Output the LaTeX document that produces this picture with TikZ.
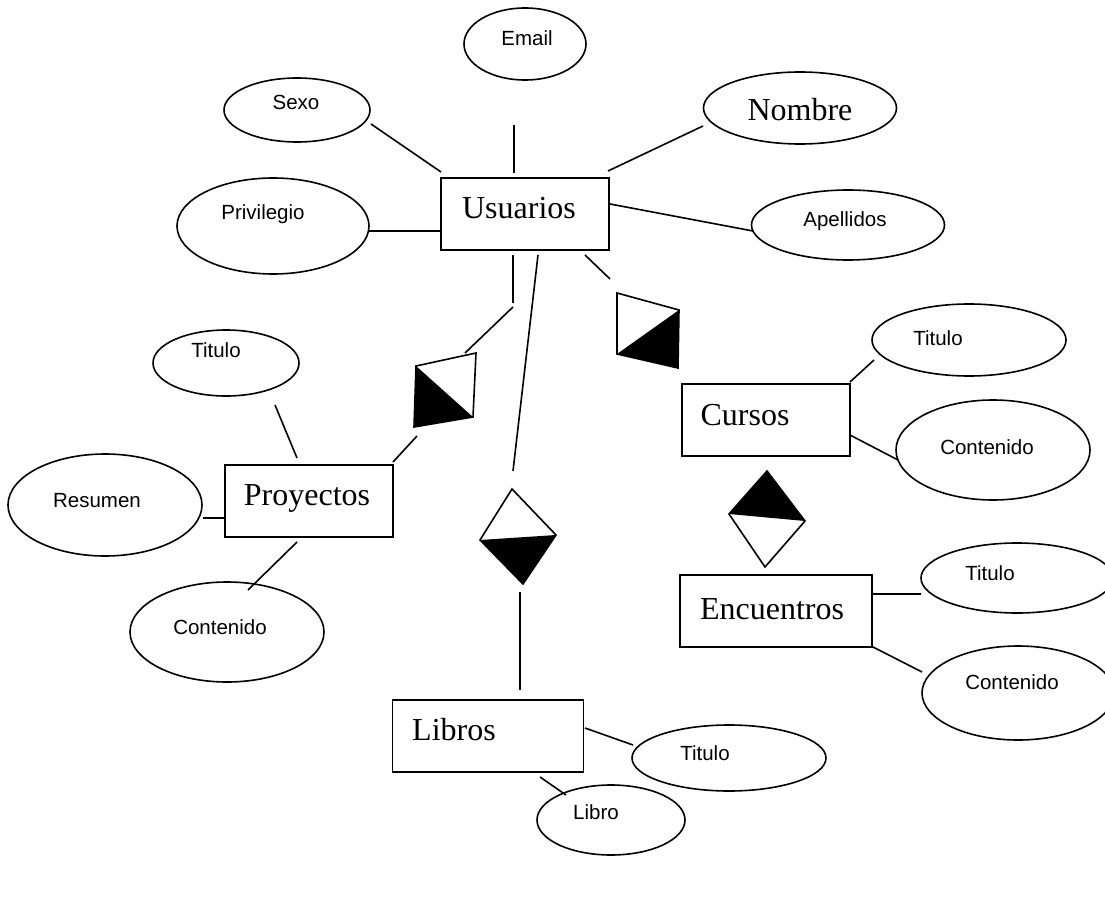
\documentclass[tikz,border=0pt]{standalone}
\usepackage{fontspec}
\setmainfont{Liberation Serif}
\newfontfamily\arialf{Liberation Sans}
\usetikzlibrary{shapes.geometric}
\begin{document}
\begin{tikzpicture}[x=1pt,y=-1pt,line width=1.6pt,
  attr/.style={draw,ellipse,inner sep=0pt},
  ent/.style={draw,rectangle,inner sep=0pt,minimum width=168pt,minimum height=72pt},
  stxt/.style={inner sep=0pt,anchor=base,font=\arialf\fontsize{20.5}{24}\selectfont},
  etxt/.style={inner sep=0pt,anchor=base,font=\fontsize{32}{38}\selectfont},
  conn/.style={draw,line cap=butt}]
\useasboundingbox (0,0) rectangle (1105,901);
% ---------- entities ----------
\node[ent] (usuarios) at (525,214) {};
\node[etxt] (usuariosT) at (519,219) {Usuarios};
\node[ent,minimum width=168pt] (proyectos) at (309,501) {};
\node[etxt] (proyectosT) at (307,505) {Proyectos};
\node[ent] (cursos) at (766,420) {};
\node[etxt] (cursosT) at (745,425) {Cursos};
\node[ent,minimum width=192pt] (encuentros) at (776,611) {};
\node[etxt] (encuentrosT) at (772,619) {Encuentros};
\node[ent,minimum width=191pt] (libros) at (488,736) {};
\node[etxt] (librosT) at (454,740) {Libros};
% ---------- attributes ----------
\node[attr,minimum width=122pt,minimum height=72pt] (email) at (525,44) {};
\node[stxt] (emailT) at (527,46) {Email};
\node[attr,minimum width=146pt,minimum height=64pt] (sexo) at (297,110) {};
\node[stxt] (sexoT) at (296,110) {Sexo};
\node[attr,minimum width=193pt,minimum height=72pt] (nombre) at (800,108) {};
\node[etxt] (nombreT) at (800,121) {Nombre};
\node[attr,minimum width=192pt,minimum height=96pt] (privilegio) at (273,226) {};
\node[stxt] (privilegioT) at (263,220) {Privilegio};
\node[attr,minimum width=193pt,minimum height=70pt] (apellidos) at (848,225) {};
\node[stxt] (apellidosT) at (845,227) {Apellidos};
\node[attr,minimum width=146pt,minimum height=66pt] (titP) at (226,363) {};
\node[stxt] (titPT) at (216,357) {Titulo};
\node[attr,minimum width=194pt,minimum height=102pt] (resumen) at (105,505) {};
\node[stxt] (resumenT) at (97,507) {Resumen};
\node[attr,minimum width=194pt,minimum height=100pt] (conP) at (227,632) {};
\node[stxt] (conPT) at (220,634) {Contenido};
\node[attr,minimum width=194pt,minimum height=72pt] (titC) at (969,340) {};
\node[stxt] (titCT) at (938,345) {Titulo};
\node[attr,minimum width=194pt,minimum height=100pt] (conC) at (993,450) {};
\node[stxt] (conCT) at (987,454) {Contenido};
\node[attr,minimum width=192pt,minimum height=70pt] (titE) at (1017,578) {};
\node[stxt] (titET) at (990,580) {Titulo};
\node[attr,minimum width=192pt,minimum height=94pt] (conE) at (1018,693) {};
\node[stxt] (conET) at (1012,689) {Contenido};
\node[attr,minimum width=194pt,minimum height=66pt] (titL) at (729,758) {};
\node[stxt] (titLT) at (705,760) {Titulo};
\node[attr,minimum width=148pt,minimum height=70pt] (libro) at (611,820) {};
\node[stxt] (libroT) at (596,819) {Libro};
% ---------- relationship diamonds ----------
% Usuarios - Proyectos
\coordinate (d1tl) at (416,366); \coordinate (d1tr) at (476,353);
\coordinate (d1br) at (473,417); \coordinate (d1bl) at (414,427);
\fill (d1tl) -- (d1bl) -- (d1br) -- cycle;
\draw[line join=miter] (d1tl) -- (d1tr) -- (d1br) -- (d1bl) -- cycle;
% Usuarios - Cursos
\coordinate (d2tl) at (617,293); \coordinate (d2tr) at (679,310);
\coordinate (d2br) at (678,368); \coordinate (d2bl) at (617,354);
\fill (d2bl) -- (d2tr) -- (d2br) -- cycle;
\draw[line join=miter] (d2tl) -- (d2tr) -- (d2br) -- (d2bl) -- cycle;
% Usuarios - Libros
\coordinate (d3t) at (512,489); \coordinate (d3l) at (480,540);
\coordinate (d3r) at (556,535); \coordinate (d3b) at (523,584);
\fill (d3l) -- (d3r) -- (d3b) -- cycle;
\draw[line join=miter] (d3t) -- (d3r) -- (d3b) -- (d3l) -- cycle;
% Cursos - Encuentros
\coordinate (d4t) at (767,471); \coordinate (d4l) at (729,514);
\coordinate (d4r) at (805,521); \coordinate (d4b) at (765,567);
\fill (d4t) -- (d4l) -- (d4r) -- cycle;
\draw[line join=miter] (d4t) -- (d4r) -- (d4b) -- (d4l) -- cycle;
% ---------- connector end points ----------
\coordinate (c1a) at (371,124);  \coordinate (c1b) at (441,172);
\coordinate (c2a) at (514,125);  \coordinate (c2b) at (514,173);
\coordinate (c3a) at (608,171);  \coordinate (c3b) at (703,126);
\coordinate (c4a) at (369,231);  \coordinate (c4b) at (441,231);
\coordinate (c5a) at (610,204);  \coordinate (c5b) at (753,231);
\coordinate (c6a) at (513,255);  \coordinate (c6b) at (513,303);
\coordinate (c7a) at (513,307);  \coordinate (c7b) at (465,353);
\coordinate (c8a) at (417,436);  \coordinate (c8b) at (393,462);
\coordinate (c9a) at (538,255);  \coordinate (c9b) at (513,471);
\coordinate (c10a) at (520,592); \coordinate (c10b) at (520,690);
\coordinate (c11a) at (585,255); \coordinate (c11b) at (610,279);
\coordinate (c12a) at (275,405); \coordinate (c12b) at (297,458);
\coordinate (c13a) at (203,518); \coordinate (c13b) at (225,518);
\coordinate (c14a) at (297,542); \coordinate (c14b) at (248,590);
\coordinate (c15a) at (850,382); \coordinate (c15b) at (874,360);
\coordinate (c16a) at (850,435); \coordinate (c16b) at (898,460);
\coordinate (c17a) at (873,594); \coordinate (c17b) at (921,594);
\coordinate (c18a) at (873,647); \coordinate (c18b) at (922,672);
\coordinate (c19a) at (585,728); \coordinate (c19b) at (633,745);
\coordinate (c20a) at (540,777); \coordinate (c20b) at (566,795);
\foreach \i in {1,...,20} { \draw[conn] (c\i a) -- (c\i b); }
\end{tikzpicture}
\end{document}
